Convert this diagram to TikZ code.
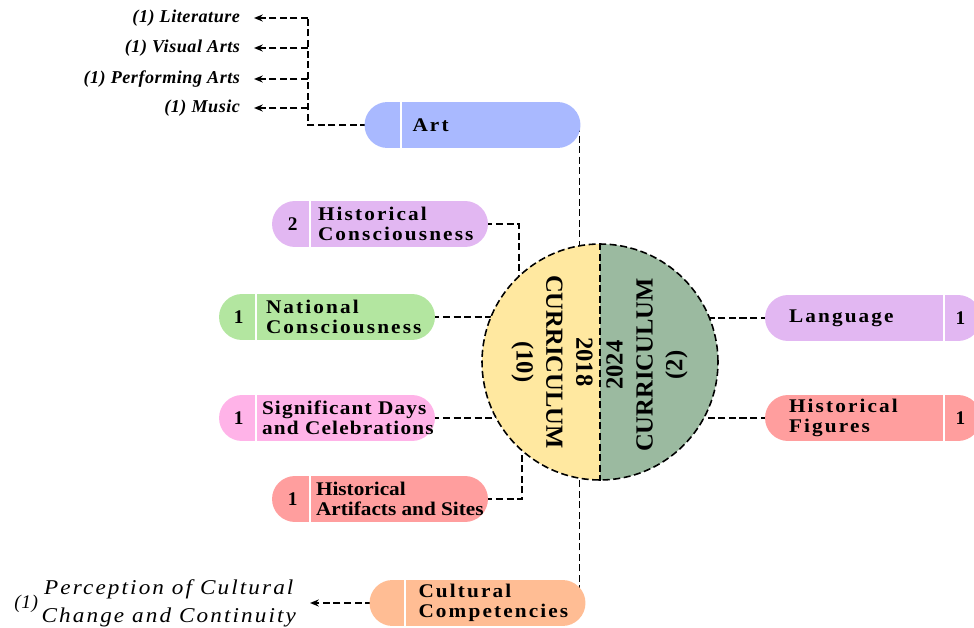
\documentclass[tikz,border=0pt]{standalone}
\usepackage{fontspec}
\setmainfont{Liberation Serif}
\newfontfamily\lblfont[FakeStretch=1.1, LetterSpace=11]{Liberation Serif}
\newfontfamily\lbltight[FakeStretch=1.1, LetterSpace=0]{Liberation Serif}
\newfontfamily\lblmid[FakeStretch=1.1, LetterSpace=6]{Liberation Serif}
\newfontfamily\itmfont[LetterSpace=3]{Liberation Serif}
\newfontfamily\percfont[FakeStretch=1.1, LetterSpace=10]{Liberation Serif}
\usetikzlibrary{arrows.meta, backgrounds, positioning}

\definecolor{artblue}{HTML}{A9B9FF}
\definecolor{lilac}{HTML}{E2B7F2}
\definecolor{leaf}{HTML}{B3E6A0}
\definecolor{rosy}{HTML}{FFB3E8}
\definecolor{salmon}{HTML}{FF9E9E}
\definecolor{peach}{HTML}{FFBD94}
\definecolor{oldyellow}{HTML}{FFE8A0}
\definecolor{sage}{HTML}{9BBAA0}

\tikzset{
    link/.style={draw=black, line width=0.9pt, dash pattern=on 4pt off 2pt},
    arrowlink/.style={link, -{Stealth[length=5pt, width=4pt]}},
    pill/.style={rectangle, rounded corners=0.46cm, minimum width=4.32cm,
    minimum height=0.92cm, inner sep=0pt},
    divide/.style={draw=white, line width=1pt},
    label/.style={inner sep=0pt, align=left, font=\lblfont\bfseries\fontsize{11}{11.3}\selectfont},
    tightlabel/.style={label, font=\lbltight\bfseries\fontsize{11}{11.3}\selectfont},
    midlabel/.style={label, font=\lblmid\bfseries\fontsize{11}{11.3}\selectfont},
    num/.style={inner sep=0pt, font=\bfseries\fontsize{11}{12}\selectfont},
    item/.style={anchor=east, inner sep=0pt, outer xsep=0.28cm,
    font=\itmfont\bfseries\itshape\fontsize{10.3}{12}\selectfont},
    curr/.style={align=center, inner sep=0pt, font=\bfseries\fontsize{14}{17}\selectfont}
}

\begin{document}
\begin{tikzpicture}[x=0.02cm, y=-0.02cm]
    \useasboundingbox (0,0) rectangle (974,628);
    \clip (0,0) rectangle (974,628);

    % the two curricula
    \node (C) at (600,362) [circle, minimum size=4.72cm, inner sep=0pt, link,
    path picture={
        \fill[oldyellow] (path picture bounding box.north west) rectangle (path picture bounding box.south);
        \fill[sage] (path picture bounding box.north) rectangle (path picture bounding box.south east);
    }] {};
    \draw[link] (C.north) -- (C.south);
    \node (C18) at (552,362) [curr, rotate=-90] {2018\\CURRICULUM\\(10)};
    \node (C24) at (647,365) [curr, rotate=90] {2024\\CURRICULUM\\(2)};

    % left side
    \node (ArtBox) at (472.5,125) [pill, fill=artblue] {};
    \draw[divide] ([xshift=0.74cm]ArtBox.north west) -- ([xshift=0.74cm]ArtBox.south west);
    \node (Art) [label, right=0.96cm of ArtBox.west] {Art};

    \node (HCBox) at (380,224) [pill, fill=lilac] {};
    \draw[divide] ([xshift=0.76cm]HCBox.north west) -- ([xshift=0.76cm]HCBox.south west);
    \node (HCn) at ([xshift=0.42cm]HCBox.west) [num] {2};
    \node (HC) [label, right=0.92cm of HCBox.west] {Historical\\Consciousness};

    \node (NCBox) at (327,317) [pill, fill=leaf] {};
    \draw[divide] ([xshift=0.74cm]NCBox.north west) -- ([xshift=0.74cm]NCBox.south west);
    \node (NCn) at ([xshift=0.4cm]NCBox.west) [num] {1};
    \node (NC) [label, right=0.94cm of NCBox.west] {National\\Consciousness};

    \node (SDBox) at (327,418) [pill, fill=rosy] {};
    \draw[divide] ([xshift=0.74cm]SDBox.north west) -- ([xshift=0.74cm]SDBox.south west);
    \node (SDn) at ([xshift=0.4cm]SDBox.west) [num] {1};
    \node (SD) [midlabel, right=0.86cm of SDBox.west] {Significant Days\\and Celebrations};

    \node (HABox) at (380,499) [pill, fill=salmon] {};
    \draw[divide] ([xshift=0.76cm]HABox.north west) -- ([xshift=0.76cm]HABox.south west);
    \node (HAn) at ([xshift=0.42cm]HABox.west) [num] {1};
    \node (HA) [tightlabel, right=0.88cm of HABox.west] {Historical\\Artifacts and Sites};

    \node (CCBox) at (477.5,603) [pill, fill=peach] {};
    \draw[divide] ([xshift=0.72cm]CCBox.north west) -- ([xshift=0.72cm]CCBox.south west);
    \node (CC) [label, right=0.98cm of CCBox.west] {Cultural\\Competencies};

    % right side
    \node (LangBox) at (873,318) [pill, fill=lilac] {};
    \draw[divide] ([xshift=-0.74cm]LangBox.north east) -- ([xshift=-0.74cm]LangBox.south east);
    \node (Langn) at ([xshift=-0.42cm]LangBox.east) [num] {1};
    \node (Lang) [label, right=0.48cm of LangBox.west] {Language};

    \node (HFBox) at (873,418) [pill, fill=salmon] {};
    \draw[divide] ([xshift=-0.74cm]HFBox.north east) -- ([xshift=-0.74cm]HFBox.south east);
    \node (HFn) at ([xshift=-0.42cm]HFBox.east) [num] {1};
    \node (HF) [label, right=0.48cm of HFBox.west] {Historical\\Figures};

    % art forms and cultural change
    \coordinate (trunk) at (308,125);
    \node (Lit) at (254,18)  [item] {(1) Literature};
    \node (Vis) at (254,48)  [item] {(1) Visual Arts};
    \node (Perf) at (254,79) [item] {(1) Performing Arts};
    \node (Mus) at (254,108) [item] {(1) Music};
    \node (Perc) at (310,603) [item, font=\percfont\itshape\fontsize{12}{15.5}\selectfont]
    {{\itmfont\fontsize{11}{12}\selectfont(1)}\,\begin{tabular}{@{}c@{}}Perception of Cultural\\Change and Continuity\end{tabular}};

    \begin{scope}[on background layer]
	\draw[link] (ArtBox.center -| C.100) -- (C.100);
	\draw[link] (ArtBox.center) -| (trunk |- Lit);
	\draw[arrowlink] (trunk |- Lit) -- (Lit.east);
	\draw[arrowlink] (trunk |- Vis) -- (Vis.east);
	\draw[arrowlink] (trunk |- Perf) -- (Perf.east);
	\draw[arrowlink] (trunk |- Mus) -- (Mus.east);
	\draw[link] (HCBox.center) -| (C.133);
	\draw[link] (NCBox.center) -- (NCBox.center -| C.center);
	\draw[link] (SDBox.center) -- (SDBox.center -| C.center);
	\draw[link] (HABox.center) -| (C.229);
	\draw[link] (CCBox.center -| C.260) -- (C.260);
	\draw[arrowlink] (CCBox.center) -- (Perc.east);
	\draw[link] (LangBox.center) -- (LangBox.center -| C.center);
	\draw[link] (HFBox.center) -- (HFBox.center -| C.center);
    \end{scope}
\end{tikzpicture}
\end{document}
